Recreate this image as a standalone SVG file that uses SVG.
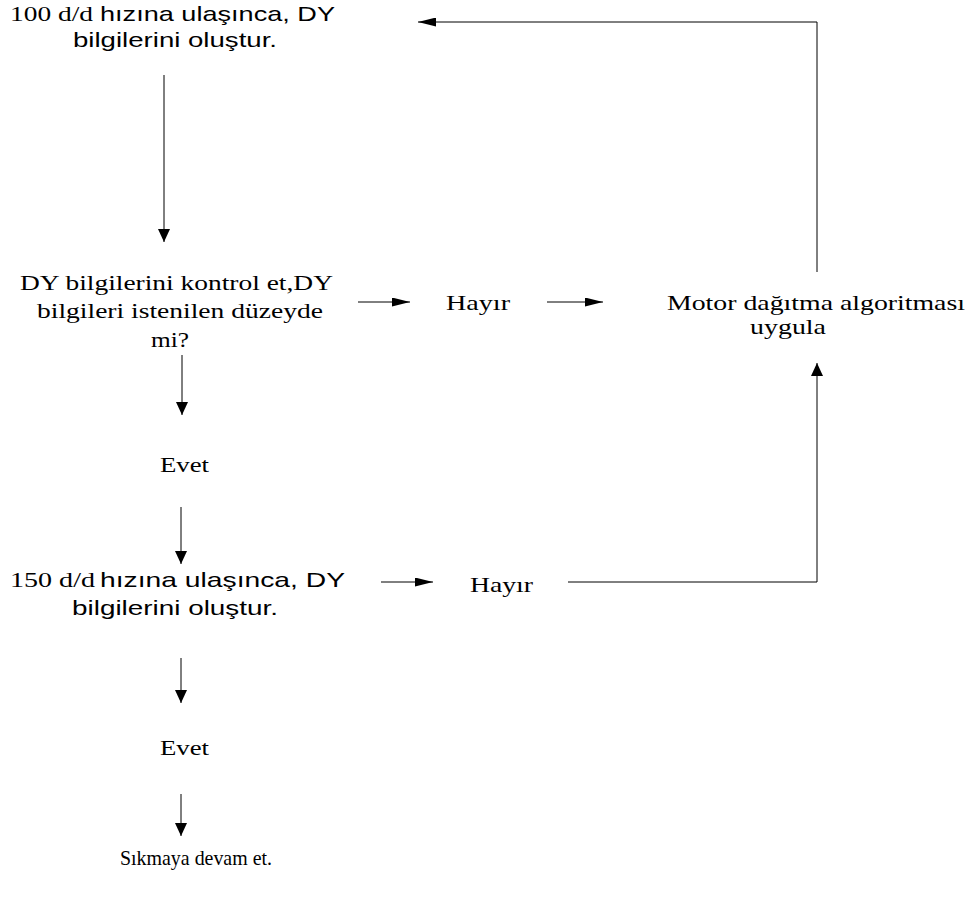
<svg xmlns="http://www.w3.org/2000/svg" width="971" height="906" viewBox="0 0 971 906">
  <style>
    .serif { font-family: "Liberation Serif", "Times New Roman", serif; font-size: 22px; fill: #000; }
    .sans { font-family: "Liberation Sans", Arial, sans-serif; font-size: 21px; fill: #000; }
    .wire { fill: none; stroke: #000; stroke-width: 1; }
  </style>
  <defs>
    <marker id="ah-h" viewBox="0 0 18 9" refX="18" refY="4.5" markerWidth="18" markerHeight="9" markerUnits="userSpaceOnUse" orient="auto">
      <path d="M0,0 L18,4.5 L0,9 z" fill="#000"/>
    </marker>
    <marker id="ah-v" viewBox="0 0 13 12" refX="13" refY="6" markerWidth="13" markerHeight="12" markerUnits="userSpaceOnUse" orient="auto">
      <path d="M0,0 L13,6 L0,12 z" fill="#000"/>
    </marker>
  </defs>

  <rect width="971" height="906" fill="#fff"/>

  <!-- connectors -->
  <g id="connectors" class="wire">
    <line x1="164" y1="75" x2="164" y2="242" marker-end="url(#ah-v)"/>
    <line x1="358" y1="302" x2="410" y2="302" marker-end="url(#ah-h)"/>
    <line x1="547" y1="302" x2="603" y2="302" marker-end="url(#ah-h)"/>
    <polyline points="817,272 817,22 418,22" marker-end="url(#ah-h)"/>
    <line x1="182" y1="355" x2="182" y2="415" marker-end="url(#ah-v)"/>
    <line x1="181" y1="507" x2="181" y2="564" marker-end="url(#ah-v)"/>
    <line x1="381" y1="582" x2="433" y2="582" marker-end="url(#ah-h)"/>
    <polyline points="568,582 817,582 817,363" marker-end="url(#ah-v)"/>
    <line x1="181" y1="658" x2="181" y2="703" marker-end="url(#ah-v)"/>
    <line x1="181" y1="794" x2="181" y2="836" marker-end="url(#ah-v)"/>
  </g>

  <!-- nodes -->
  <g id="node-speed100">
    <text class="serif" x="10" y="21" textLength="83" lengthAdjust="spacingAndGlyphs">100 d/d</text>
    <text class="sans" x="100" y="21" textLength="235" lengthAdjust="spacingAndGlyphs">hızına ulaşınca, DY</text>
    <text class="sans" x="73" y="47" textLength="204" lengthAdjust="spacingAndGlyphs">bilgilerini oluştur.</text>
  </g>

  <g id="node-check">
    <text class="serif" x="20" y="290" textLength="313" lengthAdjust="spacingAndGlyphs">DY bilgilerini kontrol et,DY</text>
    <text class="serif" x="37" y="318" textLength="286" lengthAdjust="spacingAndGlyphs">bilgileri istenilen düzeyde</text>
    <text class="serif" x="151" y="347" textLength="38" lengthAdjust="spacingAndGlyphs">mi?</text>
  </g>

  <g id="node-no1">
    <text class="serif" x="446" y="310" textLength="64" lengthAdjust="spacingAndGlyphs">Hayır</text>
  </g>

  <g id="node-motor">
    <text class="serif" x="667" y="310" textLength="298" lengthAdjust="spacingAndGlyphs">Motor dağıtma algoritması</text>
    <text class="serif" x="750" y="334" textLength="76" lengthAdjust="spacingAndGlyphs">uygula</text>
  </g>

  <g id="node-yes1">
    <text class="serif" x="160" y="472" textLength="49" lengthAdjust="spacingAndGlyphs">Evet</text>
  </g>

  <g id="node-speed150">
    <text class="serif" x="10" y="587" textLength="85" lengthAdjust="spacingAndGlyphs">150 d/d</text>
    <text class="sans" x="100" y="587" textLength="245" lengthAdjust="spacingAndGlyphs">hızına ulaşınca, DY</text>
    <text class="sans" x="72" y="615" textLength="206" lengthAdjust="spacingAndGlyphs">bilgilerini oluştur.</text>
  </g>

  <g id="node-no2">
    <text class="serif" x="470" y="592" textLength="63" lengthAdjust="spacingAndGlyphs">Hayır</text>
  </g>

  <g id="node-yes2">
    <text class="serif" x="160" y="755" textLength="49" lengthAdjust="spacingAndGlyphs">Evet</text>
  </g>

  <g id="node-continue">
    <text class="serif" x="120" y="865" textLength="152" lengthAdjust="spacingAndGlyphs">Sıkmaya devam et.</text>
  </g>
</svg>
